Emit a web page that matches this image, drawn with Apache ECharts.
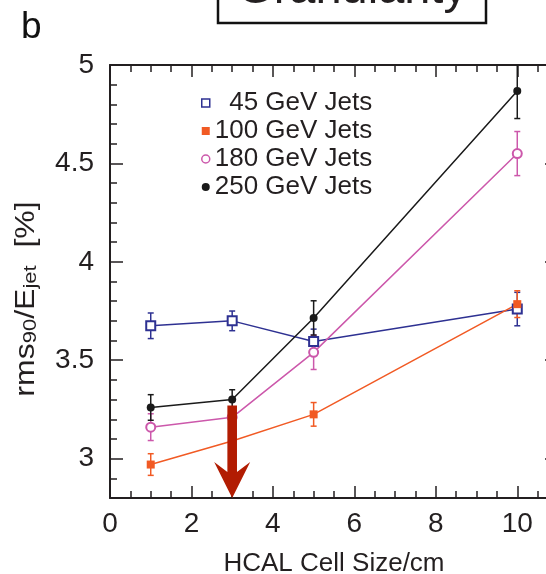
<!DOCTYPE html>
<html>
<head>
<meta charset="utf-8">
<script src="https://cdn.jsdelivr.net/npm/echarts@6/dist/echarts.min.js"></script>
<style>
  html, body { margin: 0; padding: 0; background: #fff; }
  #chart { width: 546px; height: 574px; }
</style>
</head>
<body>
<div id="chart"></div>
<script>
// HCAL cell size (cm) for each simulated detector option
const cellSizes = [1, 3, 5, 10];

// Jet energy resolution rms90/E_jet (%) and its uncertainty, per jet energy
const jets45 = [3.675, 3.70, 3.595, 3.76];
const err45 = [0.065, 0.05, 0.063, 0.085];

const jets100 = [2.97, 3.09, 3.225, 3.785];
const err100 = [0.055, null, 0.06, 0.068];

const jets180 = [3.16, 3.21, 3.54, 4.55];
const err180 = [0.068, null, 0.087, 0.112];

const jets250 = [3.26, 3.30, 3.715, 4.868];
const err250 = [0.065, 0.05, 0.087, 0.14];

const seriesNames = ['45 GeV Jets', '100 GeV Jets', '180 GeV Jets', '250 GeV Jets'];

// Chosen cell size, marked with a downward arrow
const arrowCell = [3];
const arrowTop = [3.27];
const arrowTip = [2.8];

const FONT = '"Liberation Sans", Arial, Helvetica, sans-serif';
const INK = '#231f20';
const COLORS = ['#2e3192', '#f15a24', '#cc58ab', '#1a1a1a'];

function lineSeries(name, values, color, symbol, size) {
  const empty = symbol.startsWith('empty');
  return {
    type: 'line',
    name: name,
    data: cellSizes.map((x, i) => [x, values[i]]),
    symbol: symbol,
    symbolSize: size,
    showAllSymbol: true,
    lineStyle: { color: color, width: 1.5 },
    itemStyle: { color: color, borderColor: color, borderWidth: empty ? 2 : 0 },
    emphasis: { disabled: true },
    animation: false,
    z: 3
  };
}

function errorSeries(values, errs, color) {
  const data = [];
  cellSizes.forEach((x, i) => {
    if (errs[i] != null) data.push([x, values[i] - errs[i], values[i] + errs[i]]);
  });
  return {
    type: 'custom',
    silent: true,
    animation: false,
    clip: true,
    z: 2,
    encode: { x: 0, y: [1, 2] },
    data: data,
    renderItem: function (params, api) {
      const lo = api.coord([api.value(0), api.value(1)]);
      const hi = api.coord([api.value(0), api.value(2)]);
      const c = 3;
      const st = { stroke: color, lineWidth: 1.5 };
      return {
        type: 'group',
        children: [
          { type: 'line', shape: { x1: lo[0], y1: lo[1], x2: hi[0], y2: hi[1] }, style: st },
          { type: 'line', shape: { x1: lo[0] - c, y1: lo[1], x2: lo[0] + c, y2: lo[1] }, style: st },
          { type: 'line', shape: { x1: hi[0] - c, y1: hi[1], x2: hi[0] + c, y2: hi[1] }, style: st }
        ]
      };
    }
  };
}

const arrowSeries = {
  type: 'custom',
  silent: true,
  animation: false,
  clip: false,
  z: 10,
  data: arrowCell.map((x, i) => [x, arrowTop[i], arrowTip[i]]),
  encode: { x: 0, y: [1, 2] },
  renderItem: function (params, api) {
    const top = api.coord([api.value(0), api.value(1)]);
    const tip = api.coord([api.value(0), api.value(2)]);
    const x = top[0];
    const hw = 4.8, bw = 18, headLen = 36, notch = 10;
    const back = tip[1] - headLen;
    return {
      type: 'polygon',
      shape: {
        points: [
          [x - hw, top[1]], [x - hw, back + notch], [x - bw, back],
          [x, tip[1]],
          [x + bw, back], [x + hw, back + notch], [x + hw, top[1]]
        ]
      },
      style: { fill: '#b21c02' }
    };
  }
};

const axisLineStyle = { color: INK, width: 2 };

function xAxisDef(pos, withLabels) {
  return {
    type: 'value',
    position: pos,
    min: 0,
    max: 11,
    interval: 2,
    axisLine: { show: true, onZero: false, lineStyle: axisLineStyle },
    axisTick: { show: true, inside: true, length: 12, lineStyle: { color: INK, width: 1.5 } },
    minorTick: { show: true, splitNumber: 4, length: 7, lineStyle: { color: INK, width: 1.5 } },
    splitLine: { show: false },
    minorSplitLine: { show: false },
    axisLabel: {
      show: withLabels, fontSize: 28, color: INK, fontFamily: FONT, margin: 12,
      showMaxLabel: false
    },
    name: withLabels ? 'HCAL Cell Size/cm' : '',
    nameLocation: 'middle',
    nameGap: 53,
    nameTextStyle: { fontSize: 26, color: INK, fontFamily: FONT }
  };
}

function yAxisDef(pos, withLabels) {
  return {
    type: 'value',
    position: pos,
    min: 2.8,
    max: 5,
    minInterval: 0.5,
    maxInterval: 0.5,
    axisLine: { show: true, onZero: false, lineStyle: axisLineStyle },
    axisTick: { show: true, inside: true, length: 13, lineStyle: { color: INK, width: 1.5 } },
    minorTick: { show: true, splitNumber: 5, length: 7, lineStyle: { color: INK, width: 1.5 } },
    splitLine: { show: false },
    minorSplitLine: { show: false },
    axisLabel: {
      show: withLabels, fontSize: 28, color: INK, fontFamily: FONT, margin: 16,
      showMinLabel: false
    }
  };
}

const legendIcons = [
  { icon: 'rect', itemStyle: { color: '#fff', borderColor: COLORS[0], borderWidth: 1.5 } },
  { icon: 'rect', itemStyle: { color: COLORS[1], borderWidth: 0 } },
  { icon: 'circle', itemStyle: { color: '#fff', borderColor: COLORS[2], borderWidth: 1.5 } },
  { icon: 'circle', itemStyle: { color: COLORS[3], borderWidth: 0 } }
];

const chart = echarts.init(document.getElementById('chart'), null, { renderer: 'canvas' });

chart.setOption({
  animation: false,
  backgroundColor: '#fff',
  grid: { left: 110, top: 65, width: 448, height: 433, containLabel: false, outerBoundsMode: 'none' },
  xAxis: [xAxisDef('bottom', true), xAxisDef('top', false)],
  yAxis: [yAxisDef('left', true), yAxisDef('right', false)],
  legend: {
    orient: 'vertical',
    left: 196,
    top: 85,
    itemWidth: 8,
    itemHeight: 8,
    itemGap: 2,
    selectedMode: false,
    textStyle: { fontSize: 26, color: INK, fontFamily: FONT },
    formatter: function (name) { return name.indexOf('45 ') === 0 ? '  ' + name : name; },
    data: seriesNames.map((n, i) => Object.assign({ name: n }, legendIcons[i]))
  },
  graphic: [
    {
      type: 'rect', silent: true,
      shape: { x: 218, y: -40, width: 268, height: 63 },
      style: { fill: '#fff', stroke: '#111', lineWidth: 2.5 }
    },
    {
      type: 'text', silent: true, x: 352, y: 14,
      style: { text: 'Granularity', fontSize: 47, fontFamily: FONT, fill: INK, align: 'center', verticalAlign: 'bottom' }
    },
    {
      type: 'text', silent: true, x: 21, y: 9,
      style: { text: 'b', fontSize: 37, fontFamily: FONT, fill: '#111', align: 'left', verticalAlign: 'top' }
    },
    {
      // y-axis title, rotated; narrowed across its height to suit the tall lettering
      type: 'text', silent: true, x: 26, y: 299, rotation: Math.PI / 2, scaleY: 0.86,
      style: {
        text: '{a|rms}{s|90}{a|/E}{s|jet}{a|  [%]}',
        align: 'center', verticalAlign: 'middle',
        rich: {
          a: { fontSize: 32, fontFamily: FONT, fill: INK, lineHeight: 34 },
          s: { fontSize: 22, fontFamily: FONT, fill: INK, lineHeight: 20, verticalAlign: 'bottom' }
        }
      }
    }
  ],
  series: [
    errorSeries(jets45, err45, COLORS[0]),
    errorSeries(jets100, err100, COLORS[1]),
    errorSeries(jets180, err180, COLORS[2]),
    errorSeries(jets250, err250, COLORS[3]),
    lineSeries(seriesNames[0], jets45, COLORS[0], 'emptyRect', 9),
    lineSeries(seriesNames[1], jets100, COLORS[1], 'rect', 8),
    lineSeries(seriesNames[2], jets180, COLORS[2], 'emptyCircle', 9),
    lineSeries(seriesNames[3], jets250, COLORS[3], 'circle', 8),
    arrowSeries
  ]
});
</script>
</body>
</html>
